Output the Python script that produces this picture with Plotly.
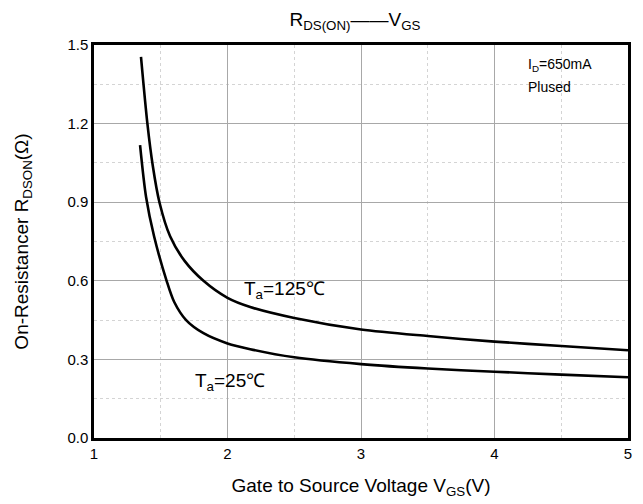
import plotly.graph_objects as go

# Gate voltage (V) and on-resistance (ohm) for each ambient temperature
vgs_125 = [1.352, 1.40, 1.44, 1.49, 1.57, 1.68, 1.82, 2.0, 2.17, 2.5, 3.0, 3.5, 4.0, 4.5, 5.0]
rds_125 = [1.455, 1.20, 1.04, 0.90, 0.77, 0.675, 0.60, 0.535, 0.50, 0.458, 0.414, 0.389, 0.368, 0.351, 0.335]

vgs_25 = [1.345, 1.39, 1.45, 1.544, 1.60, 1.69, 1.82, 2.0, 2.17, 2.5, 3.0, 3.5, 4.0, 4.5, 5.0]
rds_25 = [1.118, 0.92, 0.77, 0.60, 0.52, 0.45, 0.40, 0.361, 0.339, 0.308, 0.282, 0.265, 0.253, 0.242, 0.232]

x_ticks = [1, 2, 3, 4, 5]
y_ticks = [0.0, 0.3, 0.6, 0.9, 1.2, 1.5]
y_tick_text = ["0.0", "0.3", "0.6", "0.9", "1.2", "1.5"]

FONT = "Liberation Sans, Arial, sans-serif"

fig = go.Figure()
for xs, ys in ((vgs_125, rds_125), (vgs_25, rds_25)):
    fig.add_trace(go.Scatter(
        x=xs, y=ys, mode="lines",
        line=dict(color="black", width=2.6, shape="spline", smoothing=0.8),
        showlegend=False, hoverinfo="skip",
    ))

fig.add_annotation(x=2.11, y=0.565, xanchor="left", yanchor="middle",
                   text="T<sub>a</sub>=125℃", showarrow=False,
                   font=dict(size=19, color="black", family=FONT))
fig.add_annotation(x=1.74, y=0.214, xanchor="left", yanchor="middle",
                   text="T<sub>a</sub>=25℃", showarrow=False,
                   font=dict(size=19, color="black", family=FONT))
fig.add_annotation(x=4.235, y=1.425, xanchor="left", yanchor="middle",
                   text="I<sub>D</sub>=650mA", showarrow=False,
                   font=dict(size=14, color="black", family=FONT))
fig.add_annotation(x=4.235, y=1.34, xanchor="left", yanchor="middle",
                   text="Plused", showarrow=False,
                   font=dict(size=14, color="black", family=FONT))

fig.update_layout(
    width=643, height=504,
    margin=dict(l=94, r=15, t=45, b=66),
    paper_bgcolor="white", plot_bgcolor="white",
    font=dict(family=FONT, color="black", size=15),
    title=dict(text="R<sub>DS(ON)</sub>——V<sub>GS</sub>", x=0.552, xanchor="center",
               y=0.962, yanchor="middle", font=dict(size=19, family=FONT)),
    xaxis=dict(
        range=[1, 5], tickvals=x_ticks, ticks="", showline=True, mirror=True,
        linecolor="black", linewidth=2.5, showgrid=True, gridcolor="#a8a8a8",
        gridwidth=1, zeroline=False, tickfont=dict(size=15),
        minor=dict(dtick=0.5, tick0=1, showgrid=True, gridcolor="#d4d4d4",
                   griddash="dot", gridwidth=1),
        title=dict(text="Gate to Source Voltage V<sub>GS</sub>(V)",
                   font=dict(size=19), standoff=18),
    ),
    yaxis=dict(
        range=[0, 1.5], tickvals=y_ticks, ticktext=y_tick_text, ticks="",
        showline=True, mirror=True, linecolor="black", linewidth=2.5,
        showgrid=True, gridcolor="#a8a8a8", gridwidth=1, zeroline=False,
        tickfont=dict(size=15),
        minor=dict(dtick=0.15, tick0=0, showgrid=True, gridcolor="#d4d4d4",
                   griddash="dot", gridwidth=1),
        title=dict(text="On-Resistancer R<sub>DSON</sub>(Ω)",
                   font=dict(size=19), standoff=34),
    ),
)

fig.write_html("out.html")
